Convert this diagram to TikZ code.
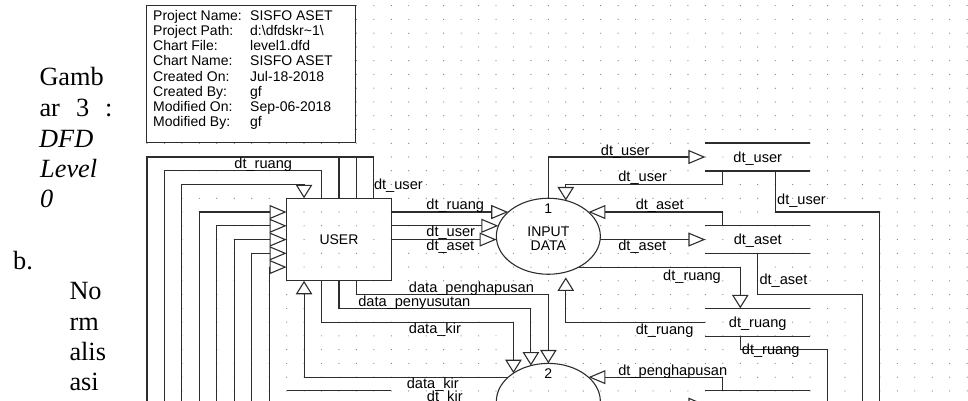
\documentclass[tikz,border=0pt]{standalone}
\usepackage{fontspec}
\setmainfont{Liberation Serif}
\setsansfont{Liberation Sans}
\usetikzlibrary{arrows.meta,shapes.geometric}
\definecolor{linec}{RGB}{45,45,45}
\definecolor{dotc}{RGB}{120,120,120}
\tikzset{
  flow/.style={draw=linec, line width=1.1pt},
  hd/.style={-{Triangle[length=17pt,width=14pt,fill=white]}},
  vd/.style={-{Triangle[length=13.5pt,width=16.5pt,fill=white]}},
  lbl/.style={font=\fontsize{14.6}{15}\selectfont\sffamily, inner sep=0pt, anchor=base west},
  slbl/.style={font=\fontsize{14.6}{15}\selectfont\sffamily, inner sep=0pt, anchor=base},
  ptxt/.style={font=\fontsize{14}{15}\selectfont\sffamily, inner sep=0pt, anchor=base},
  ibt/.style={font=\fontsize{14}{15}\selectfont\sffamily, inner sep=0pt, anchor=base west},
  bodyt/.style={font=\fontsize{26.3}{30}\selectfont, inner sep=0pt, anchor=base west},
  bodyit/.style={font=\fontsize{26.3}{30}\selectfont\itshape, inner sep=0pt, anchor=base west},
  store/.style={minimum width=104.7pt, minimum height=27.52pt, inner sep=0pt},
  proc/.style={ellipse, draw=linec, line width=1.1pt, minimum width=104pt, minimum height=76pt, inner sep=0pt},
}
\begin{document}
\begin{tikzpicture}[x=1pt,y=-1pt]
\useasboundingbox (0,0) rectangle (968,401);
% body text
\node[bodyt] (g1) at (39.3,86) {Gamb};
\node[bodyt] (g2) at (39.3,116.5) {ar};
\node[bodyt] (g3) at (76,116.5) {3};
\node[bodyt] (g4) at (105,116.5) {:};
\node[bodyit] (g5) at (39,147) {DFD};
\node[bodyit] (g6) at (40,177) {Level};
\node[bodyit] (g7) at (40,207) {0};
\node[bodyt] (g8) at (13,269) {b.};
\node[bodyt] (g9) at (69.3,299.5) {No};
\node[bodyt] (g10) at (69.3,330) {rm};
\node[bodyt] (g11) at (69.3,360.5) {alis};
\node[bodyt] (g12) at (69.3,390) {asi};
% dot grid
\begin{scope}[xshift=147pt,yshift=-157pt,x=17.45pt,y=-13.76pt]
\foreach \k in {0,...,47}{\foreach \j in {-11,...,17}{\fill[dotc] (\k,\j) circle[radius=0.6pt];}}
\end{scope}
% info box
\node[draw=linec, fill=white, line width=1pt, minimum width=209pt, minimum height=136.7pt, anchor=north west, inner sep=0pt] (info) at (146,5) {};
\node[ibt] (i1) at (153,20.7) {Project Name:};
\node[ibt] (v1) at (250,20.7) {SISFO ASET};
\node[ibt] (i2) at (153,35.8) {Project Path:};
\node[ibt] (v2) at (250,35.8) {d:\textbackslash dfdskr\textasciitilde 1\textbackslash};
\node[ibt] (i3) at (153,50.9) {Chart File:};
\node[ibt] (v3) at (250,50.9) {level1.dfd};
\node[ibt] (i4) at (153,66.0) {Chart Name:};
\node[ibt] (v4) at (250,66.0) {SISFO ASET};
\node[ibt] (i5) at (153,81.1) {Created On:};
\node[ibt] (v5) at (250,81.1) {Jul-18-2018};
\node[ibt] (i6) at (153,96.2) {Created By:};
\node[ibt] (v6) at (250,96.2) {gf};
\node[ibt] (i7) at (153,111.3) {Modified On:};
\node[ibt] (v7) at (250,111.3) {Sep-06-2018};
\node[ibt] (i8) at (153,126.4) {Modified By:};
\node[ibt] (v8) at (250,126.4) {gf};
% diagram
\begin{scope}[xshift=147pt,yshift=-157pt,x=17.45pt,y=-13.76pt]
\node[draw=linec, line width=1.1pt, minimum width=104.7pt, minimum height=82.56pt, inner sep=0pt, font=\fontsize{14}{15}\selectfont\sffamily] (user) at (11,6) {USER};
\node[proc] (p1) at (23,5.76) {};
\node[proc] (p2) at (23,17.76) {};
\node[ptxt] (p1a) at (23,4.14) {1};
\node[ptxt] (p1b) at (23,5.81) {INPUT};
\node[ptxt] (p1c) at (23,6.83) {DATA};
\node[ptxt] (p2a) at (23,16.13) {2};
\node[store] (s1) at (35,0) {};
\node[store] (s2) at (35,6) {};
\node[store] (s3) at (35,12) {};
\node[store] (s4) at (35,18) {};
\foreach \s in {s1,s2,s3,s4}{\draw[flow] (\s.north west) -- (\s.north east) (\s.south west) -- (\s.south east);}
\node[slbl] (s1l) at (35,0.37) {dt\_user};
\node[slbl] (s2l) at (35,6.37) {dt\_aset};
\node[slbl] (s3l) at (35,12.37) {dt\_ruang};
% free ends at the bottom edge
\foreach \k in {0,...,7}{\coordinate (b\k) at (\k,17.9);}
\coordinate (b39) at (39,17.9);
\coordinate (b41) at (41,17.9);
\coordinate (b42) at (42,17.9);
% USER top and left
\draw[flow] (13,3) -- (13,0) -- (0,0) -- (b0);
\draw[flow] (user.north) -- (11,0);
\draw[flow] (12,3) -- (12,0);
\draw[flow] (10,3) -- (10,1) -- (1,1) -- (b1);
\draw[flow,vd] (b2) -- (2,2) -- (9,2) -- (9,3);
\draw[flow,hd] (b3) -- (3,4) -- (8,4);
\draw[flow,hd] (b4) -- (4,5) -- (8,5);
\draw[flow,hd] (b5) -- (5,6) -- (8,6);
\draw[flow,hd] (b6) -- (6,7) -- (8,7);
\draw[flow,hd] (b7) -- (7,8) -- (8,8);
% USER to process 1
\draw[flow,hd] (14,4) -- (20.70,4);
\draw[flow,hd] (14,5) -- (20.135,5);
\draw[flow,hd] (14,6) -- (20.03,6);
% process 1 and stores
\draw[flow,hd] (p1.north) -- (23,0) -- (32,0);
\draw[flow,vd] (33,1) -- (33,2) -- (24,2) -- (24,3.16);
\draw[flow,hd] (33,5) -- (33,4) -- (25.30,4);
\draw[flow,hd] (25.97,6) -- (32,6);
\draw[flow,vd] (24.74,8) -- (34,8) -- (34,11);
\draw[flow,vd] (32,12) -- (24,12) -- (24,8.75);
\draw[flow] (36,1) -- (36,4) -- (42,4) -- (b42);
\draw[flow] (35,7) -- (35,10) -- (41,10) -- (b41);
\draw[flow] (34,13) -- (34,14) -- (39,14) -- (b39);
% process 2
\draw[flow,vd] (12,9) -- (12,10) -- (23,10) -- (23,15);
\draw[flow,vd] (11,9) -- (11,11) -- (22,11) -- (22,15.16);
\draw[flow,vd] (10,9) -- (10,12) -- (21,12) -- (21,15.71);
\draw[flow,vd] (20.70,16) -- (9,16) -- (9,9);
\draw[flow,hd] (33,17) -- (33,16) -- (25.30,16);
\draw[flow,hd] (25.97,18) -- (32,18);
\draw[flow] (8,17) -- (14,17);
% labels
\node[lbl] (l1) at (5,0.836) {dt\_ruang};
\node[lbl] (l2) at (13,2.33) {dt\_user};
\node[lbl] (l3) at (16,3.85) {dt\_ruang};
\node[lbl] (l4) at (16,5.81) {dt\_user};
\node[lbl] (l5) at (16,6.76) {dt\_aset};
\node[lbl] (l6) at (26,-0.145) {dt\_user};
\node[lbl] (l7) at (27,1.78) {dt\_user};
\node[lbl] (l8) at (28,3.85) {dt\_aset};
\node[lbl] (l9) at (27,6.8) {dt\_aset};
\node[lbl] (l13) at (36.1,3.42) {dt\_user};
\node[lbl] (l14) at (35.09,9.3) {dt\_aset};
\node[lbl] (l15) at (29.57,9.01) {dt\_ruang};
\node[lbl] (l16) at (28,12.9) {dt\_ruang};
\node[lbl] (l17) at (34.08,14.35) {dt\_ruang};
\node[lbl] (l18) at (27,15.88) {dt\_penghapusan};
\node[lbl] (l19) at (15,9.85) {data\_penghapusan};
\node[lbl] (l20) at (12.1,10.87) {data\_penyusutan};
\node[lbl] (l21) at (15,12.86) {data\_kir};
\node[lbl] (l22) at (14.88,16.82) {data\_kir};
\node[lbl] (l23) at (16.03,17.8) {dt\_kir};
\end{scope}
\end{tikzpicture}
\end{document}
